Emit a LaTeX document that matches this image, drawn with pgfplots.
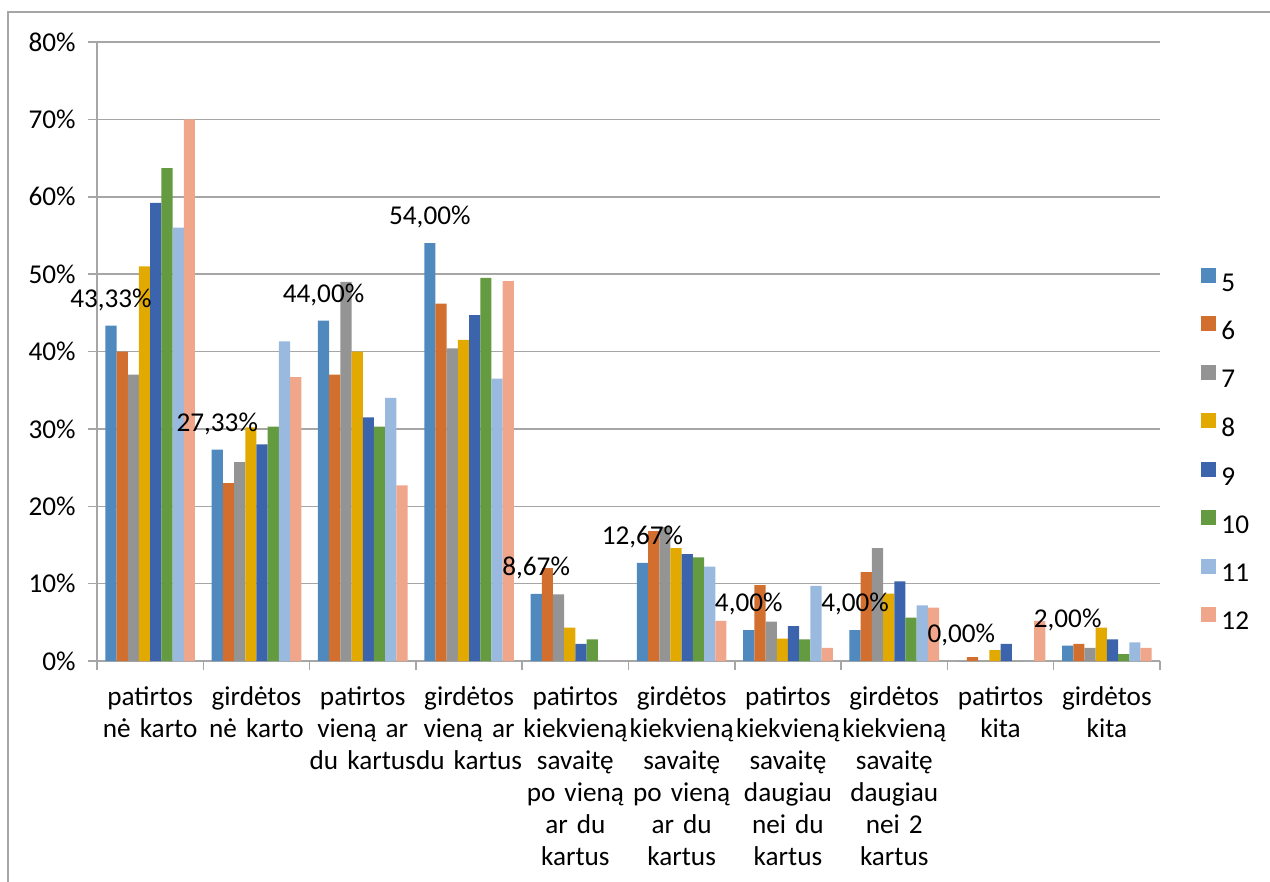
\documentclass[border=0pt]{standalone}
\usepackage{fontspec}
\setmainfont{Carlito}[WordSpace=0.8]
\usepackage{pgfplots}
\pgfplotsset{compat=1.18}

\definecolor{c5}{RGB}{80,137,190}
\definecolor{c6}{RGB}{211,111,46}
\definecolor{c7}{RGB}{148,148,148}
\definecolor{c8}{RGB}{226,170,0}
\definecolor{c9}{RGB}{60,100,172}
\definecolor{c10}{RGB}{100,154,64}
\definecolor{c11}{RGB}{153,185,223}
\definecolor{c12}{RGB}{240,166,138}
\definecolor{gridc}{RGB}{166,166,166}

\begin{document}
\begin{tikzpicture}[font=\fontsize{13.6bp}{16bp}\selectfont]
\useasboundingbox (-48.5bp,-110.5bp) rectangle (586.5bp,330.5bp);
\draw[gridc, line width=0.75bp] (-44.5bp,-120bp) -- (-44.5bp,324.5bp) -- (600bp,324.5bp);
\begin{axis}[
    at={(0,0)}, anchor=south west,
    scale only axis, width=531.5bp, height=309.5bp,
    ybar, bar width=5.6bp,
    xmin=0.5, xmax=10.5, ymin=0, ymax=80,
    axis lines*=left,
    axis line style={gridc, line width=0.75bp},
    tick align=outside,
    tick style={gridc, line width=0.75bp},
    major tick length=4.5bp,
    ymajorgrids=true,
    grid style={gridc, line width=0.75bp},
    ytick={0,10,...,80},
    yticklabels={0\%,10\%,20\%,30\%,40\%,50\%,60\%,70\%,80\%},
    yticklabel style={inner sep=0pt, xshift=-6bp},
    xtick={1,...,10},
    major x tick style={draw=none},
    xticklabels={
      patirtos\\nė karto,
      girdėtos\\nė karto,
      patirtos\\vieną ar\\du kartus,
      girdėtos\\vieną ar\\du kartus,
      patirtos\\kiekvieną\\savaitę\\po vieną\\ar du\\kartus,
      girdėtos\\kiekvieną\\savaitę\\po vieną\\ar du\\kartus,
      patirtos\\kiekvieną\\savaitę\\daugiau\\nei du\\kartus,
      girdėtos\\kiekvieną\\savaitę\\daugiau\\nei 2\\kartus,
      patirtos\\kita,
      girdėtos\\kita},
    xticklabel style={align=center, text width=56bp, inner sep=0pt, yshift=-8bp},
    extra x ticks={0.5,1.5,...,10.5},
    extra x tick labels={},
    extra x tick style={grid=none, major x tick style={draw=gridc}},
    legend style={draw=none, fill=none, row sep=11.1bp,
        at={(1.033,0.642)}, anchor=north west,
        nodes={inner sep=0pt}},
    legend cell align=left,
    /tikz/every odd column/.style={column sep=2.5bp},
    legend image code/.code={\fill[#1,draw=none] (0bp,0.4bp) rectangle (7.5bp,7.9bp);},
]
\addplot[fill=c5, draw=none, bar shift=-19.6bp]
  coordinates {(1,43.33) (2,27.33) (3,44) (4,54) (5,8.67) (6,12.67) (7,4) (8,4) (9,0) (10,2)};
\addplot[fill=c6, draw=none, bar shift=-14bp] coordinates {(1,40) (2,23) (3,37) (4,46.2) (5,12) (6,16.8) (7,9.8) (8,11.5) (9,0.5) (10,2.2)};
\addplot[fill=c7, draw=none, bar shift=-8.4bp] coordinates {(1,37) (2,25.7) (3,49) (4,40.4) (5,8.6) (6,17.3) (7,5.1) (8,14.6) (9,0) (10,1.7)};
\addplot[fill=c8, draw=none, bar shift=-2.8bp] coordinates {(1,51) (2,30.2) (3,40) (4,41.5) (5,4.3) (6,14.6) (7,2.9) (8,8.7) (9,1.4) (10,4.3)};
\addplot[fill=c9, draw=none, bar shift=2.8bp] coordinates {(1,59.2) (2,28) (3,31.5) (4,44.7) (5,2.2) (6,13.8) (7,4.5) (8,10.3) (9,2.2) (10,2.8)};
\addplot[fill=c10, draw=none, bar shift=8.4bp] coordinates {(1,63.7) (2,30.3) (3,30.3) (4,49.5) (5,2.8) (6,13.4) (7,2.8) (8,5.6) (9,0) (10,0.9)};
\addplot[fill=c11, draw=none, bar shift=14bp] coordinates {(1,56) (2,41.3) (3,34) (4,36.5) (5,0) (6,12.2) (7,9.7) (8,7.2) (9,0) (10,2.4)};
\addplot[fill=c12, draw=none, bar shift=19.6bp] coordinates {(1,70) (2,36.7) (3,22.7) (4,49.1) (5,0) (6,5.2) (7,1.7) (8,6.9) (9,5.2) (10,1.7)};
\legend{5,6,7,8,9,10,11,12}
% data labels of series 5, drawn last so that they lie over the bars
\addplot[draw=none, fill=none, bar shift=-19.6bp, forget plot,
    point meta=explicit symbolic, nodes near coords,
    every node near coord/.append style={anchor=center, yshift=13bp, black}]
  coordinates {(1,43.33)[{43,33\%}] (2,27.33)[{27,33\%}] (3,44)[{44,00\%}] (4,54)[{54,00\%}]
    (5,8.67)[{8,67\%}] (6,12.67)[{12,67\%}] (7,4)[{4,00\%}] (8,4)[{4,00\%}] (9,0)[{0,00\%}] (10,2)[{2,00\%}]};
\end{axis}
\end{tikzpicture}
\end{document}
